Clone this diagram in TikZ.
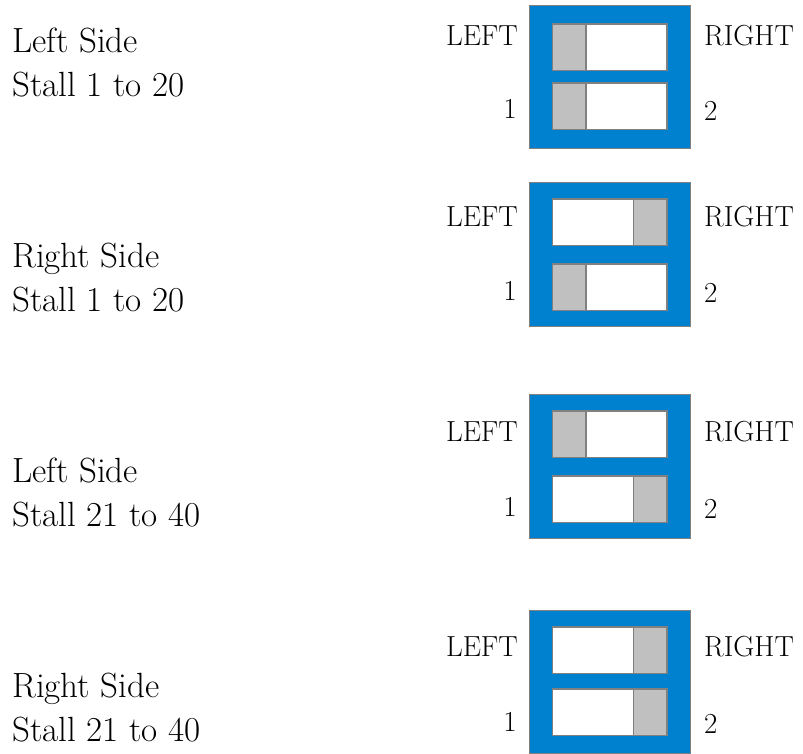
\documentclass[tikz,border=0pt]{standalone}
\definecolor{switchblue}{RGB}{0,129,207}
\definecolor{rimgray}{RGB}{128,128,128}
\definecolor{knobgray}{RGB}{192,192,192}
\begin{document}
\begin{tikzpicture}[x=1pt, y=-1pt,
    sidetext/.style={anchor=north west, inner sep=0pt, align=left,
      font=\fontsize{35}{43.5}\selectfont},
    lab/.style={inner sep=0pt, font=\fontsize{29}{34}\selectfont},
    housing/.style={fill=switchblue, draw=rimgray, line width=1pt},
    slot/.style={fill=white, draw=rimgray, line width=1.6pt},
    knob/.style={fill=knobgray, draw=rimgray, line width=1.6pt}]
  \useasboundingbox (0,0) rectangle (803,753);

  % texts on the left
  \foreach \n/\y/\side/\stall in {1/28/Left/1 to 20, 2/243/Right/1 to 20,
      3/458/Left/21 to 40, 4/673/Right/21 to 40} {
    \node[sidetext] (side\n) at (12,\y) {\side{} Side\\Stall \stall};
  }

  % switches: box top/bottom, slot tops, knob x (top, bottom), label heights
  \foreach \n/\bt/\bb/\st/\sb/\kt/\kb/\lt/\lb in {
      1/5/148/24/83/552/552/35.5/109,
      2/182/326/199/264/633/552/217/291,
      3/394/538/411/476/552/633/432/506.5,
      4/610/753/627/689/633/633/647/722} {
    \draw[housing] (529.5,\bt) rectangle (690.5,\bb);
    \draw[slot] (552.5,\st) rectangle (667,\st+46.5);
    \draw[slot] (552.5,\sb) rectangle (667,\sb+46.5);
    \draw[knob] (\kt+0.5,\st) rectangle (\kt+34,\st+46.5);
    \draw[knob] (\kb+0.5,\sb) rectangle (\kb+34,\sb+46.5);
    \node[lab, anchor=east] (left\n) at (518,\lt) {LEFT};
    \node[lab, anchor=west] (right\n) at (704,\lt) {RIGHT};
    \node[lab, anchor=east] (one\n) at (517,\lb) {1};
    \node[lab, anchor=west] (two\n) at (704,\lb+2) {2};
  }
\end{tikzpicture}
\end{document}
